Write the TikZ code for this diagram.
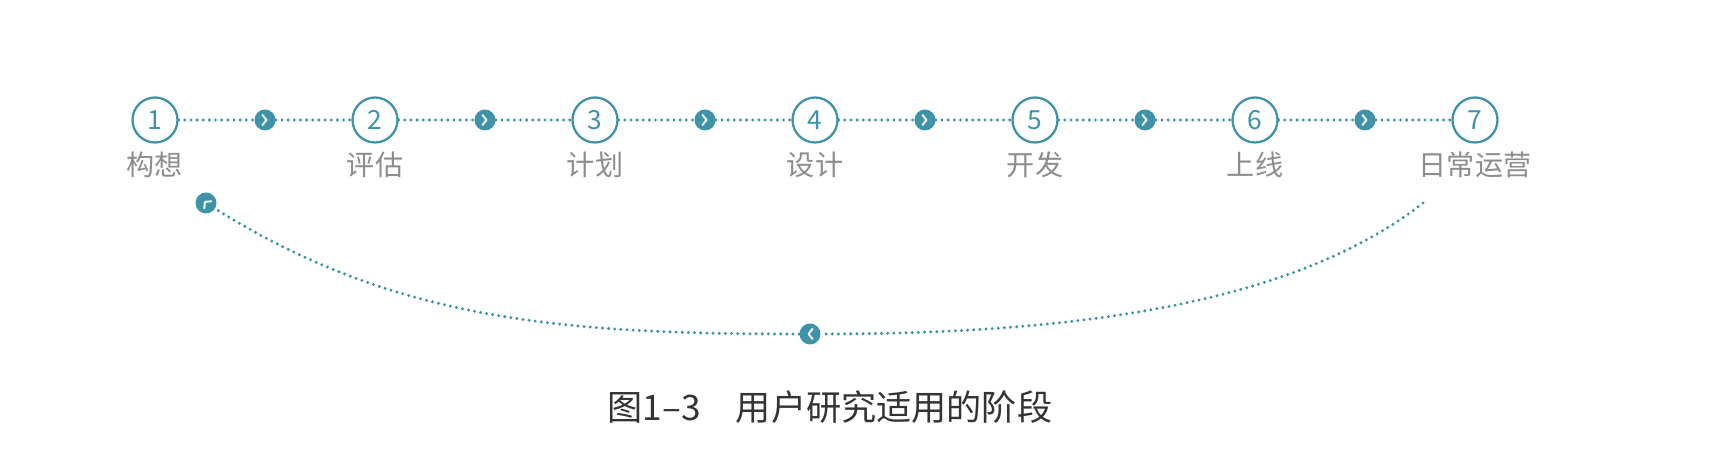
\documentclass[tikz,border=0pt]{standalone}
\usepackage{fontspec}
\newfontfamily\cjk{Noto Sans CJK SC}
\usetikzlibrary{positioning}
\definecolor{tealmain}{HTML}{3F93A8}
\definecolor{phasegray}{HTML}{8C8C8C}
\definecolor{captiongray}{HTML}{333333}
\newcommand{\chev}[2]{\draw[white, line width=1.1pt, line cap=round, line join=round, shift={(#1)}, rotate=#2] (-0.05,0.1) -- (0.03,0) -- (-0.05,-0.1);}

\begin{document}
\begin{tikzpicture}[
    stage/.style={circle, draw=tealmain, line width=1.3pt, fill=white, minimum size=0.9cm, inner sep=0pt, text=tealmain, font=\cjk\fontsize{15pt}{15pt}\selectfont},
    phase/.style={text=phasegray, inner sep=0pt, font=\cjk\fontsize{16pt}{16pt}\selectfont},
    knob/.style={circle, fill=tealmain, minimum size=0.42cm, inner sep=0pt},
    dotline/.style={tealmain, line width=1.9pt, line cap=round, dash pattern=on 0pt off 3.5pt}
]
    \useasboundingbox (0,0) rectangle (34.6,9.16);

    \foreach \n [count=\i] in {构想,评估,计划,设计,开发,上线,日常运营} {
        \node[stage] (c\i) at (\i*4.4-1.3,6.76) {\i};
        \node[phase] (p\i) at (\i*4.4-1.3,5.86) {\n};
    }

    \foreach \i [evaluate=\i as \j using int(\i+1)] in {1,...,6} {
        \node[knob] (a\i) at (\i*4.4+0.9,6.76) {};
        \draw[dotline] (c\i) -- (a\i);
        \draw[dotline] (a\i) -- (c\j);
        \chev{a\i}{0}
    }

    \coordinate (back) at (28.46,5.10);
    \node[knob] (b2) at (16.2,2.48) {};
    \node[knob] (b1) at (4.12,5.10) {};
    \draw[dotline] (back) .. controls (25.78,3.00) and (21.2,2.48) .. (b2);
    \draw[dotline] (b2) .. controls (11.2,2.48) and (7.86,2.76) .. (b1);
    \chev{b2}{180}
    \chev{b1}{135}

    \node[text=captiongray, font=\cjk\fontsize{20pt}{20pt}\selectfont] (cap) at (16.6,1.02) {图1–3　用户研究适用的阶段};
\end{tikzpicture}
\end{document}
